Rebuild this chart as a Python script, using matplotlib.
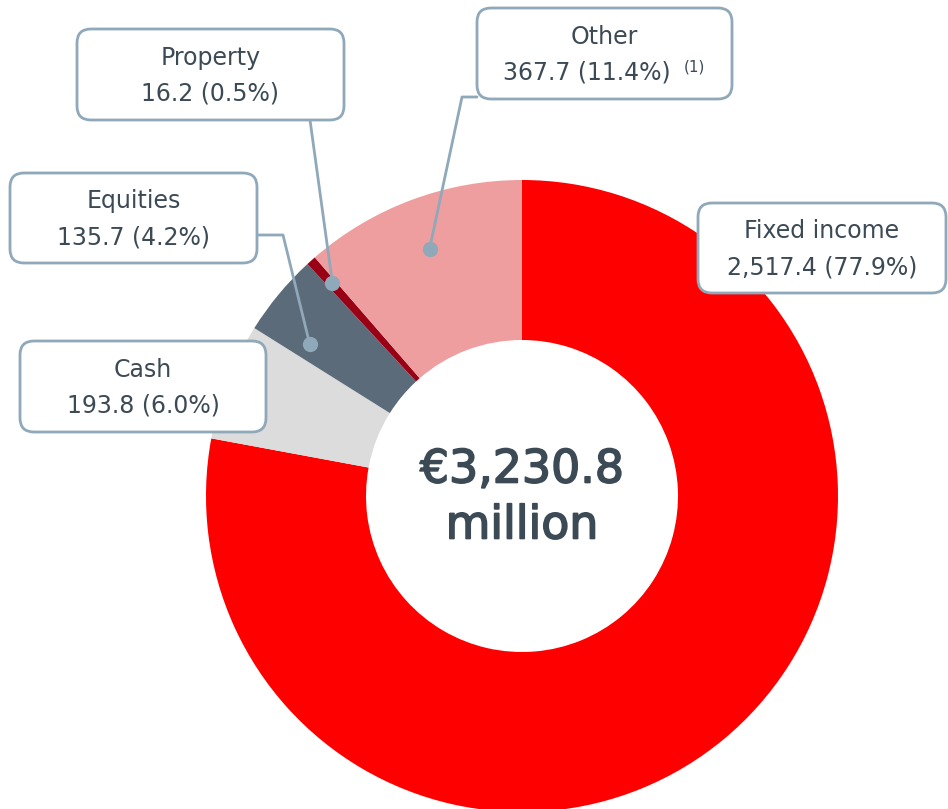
import numpy as np
import matplotlib.pyplot as plt
import matplotlib.patheffects as pe
from matplotlib.patches import FancyBboxPatch

# portfolio split, EUR million
categories = ["Fixed income", "Cash", "Equities", "Property", "Other"]
values = [2517.4, 193.8, 135.7, 16.2, 367.7]
shares = ["77.9%", "6.0%", "4.2%", "0.5%", "11.4%"]
value_labels = ["2,517.4", "193.8", "135.7", "16.2", "367.7"]
total_label = "€3,230.8"
colors = ["#FF0000", "#DCDCDC", "#5C6B7A", "#9A0015", "#EE9E9E"]

W, H = 948, 809
TXT = "#3C4A55"
EDGE = "#8FA8BA"


def py(y):
    # image-style y (from top) -> axes y (from bottom)
    return H - y


fig = plt.figure(figsize=(W / 100, H / 100), dpi=100)
ax = fig.add_axes([0, 0, 1, 1])

cx, cy, r_out, r_in = 522, py(496), 316, 156
wedges, _ = ax.pie(values, colors=colors, startangle=90, counterclock=False,
                   center=(cx, cy), radius=r_out, frame=True,
                   wedgeprops=dict(width=r_out - r_in, linewidth=0))
ax.set_xlim(0, W)
ax.set_ylim(0, H)
ax.set_aspect("equal")
ax.axis("off")

# centre total, slightly thickened strokes
heavy = [pe.withStroke(linewidth=1.2, foreground=TXT)]
ax.text(cx, py(470), total_label, ha="center", va="center", fontsize=33,
        color=TXT, path_effects=heavy)
ax.text(cx, py(526), "million", ha="center", va="center", fontsize=33,
        color=TXT, path_effects=heavy)

# label boxes: x0, y0, x1, y1 (top-left origin)
boxes = {
    "Fixed income": (698, 203, 946, 293),
    "Cash": (20, 341, 266, 432),
    "Equities": (10, 173, 257, 263),
    "Property": (77, 29, 344, 120),
    "Other": (477, 8, 732, 99),
}
# leader lines: path start points from the box, then the dot on the wedge
leaders = {
    "Equities": ([(257, 235), (283, 235)], 0.77, 261),
    "Property": ([(310, 120)], 0.4, 285),
    "Other": ([(477, 97), (462, 97)], 0.5, 264),
}

for w, name in zip(wedges, categories):
    if name not in leaders:
        continue
    pts, frac, rad = leaders[name]
    ang = np.deg2rad(w.theta1 + frac * (w.theta2 - w.theta1))
    dx, dy = cx + rad * np.cos(ang), cy + rad * np.sin(ang)
    xs = [p[0] for p in pts] + [dx]
    ys = [py(p[1]) for p in pts] + [dy]
    ax.plot(xs, ys, color=EDGE, lw=2, zorder=3, solid_capstyle="round")
    ax.plot(dx, dy, "o", ms=11, color=EDGE, mec="none", zorder=4)

for name, val, sh in zip(categories, value_labels, shares):
    x0, y0, x1, y1 = boxes[name]
    rad = 14
    box = FancyBboxPatch((x0 + rad, py(y1) + rad), (x1 - x0) - 2 * rad,
                         (y1 - y0) - 2 * rad,
                         boxstyle=f"round,pad={rad},rounding_size={rad}",
                         fc="white", ec=EDGE, lw=2, zorder=5)
    ax.add_patch(box)
    xc, yc = (x0 + x1) / 2, (y0 + y1) / 2
    ax.text(xc, py(yc - 17), name, ha="center", va="center",
            fontsize=17, color=TXT, zorder=6)
    line2 = f"{val} ({sh})"
    if name == "Other":
        ax.text(xc - 18, py(yc + 19), line2, ha="center", va="center",
                fontsize=17, color=TXT, zorder=6)
        ax.text(684, py(yc + 13), "(1)", ha="left", va="center",
                fontsize=11, color=TXT, zorder=6)
    else:
        ax.text(xc, py(yc + 19), line2, ha="center", va="center",
                fontsize=17, color=TXT, zorder=6)

fig.savefig("out.png", dpi=100)
